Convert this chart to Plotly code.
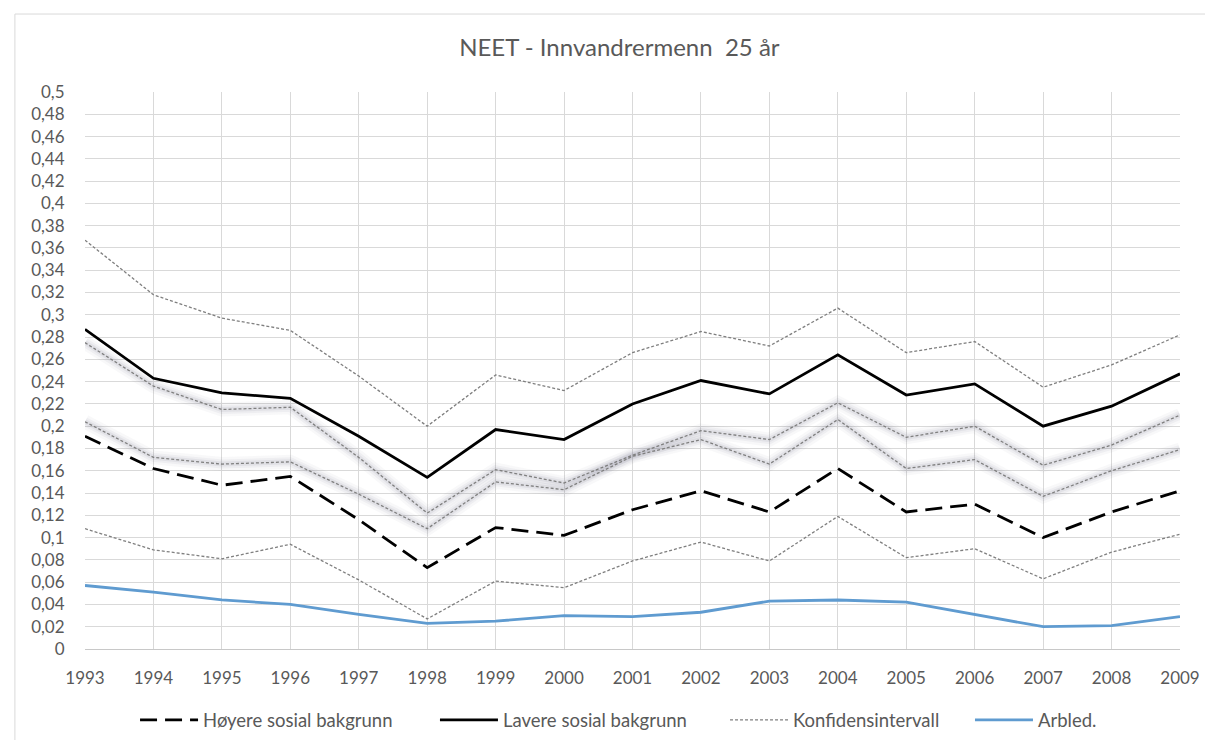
import plotly.graph_objects as go

years = list(range(1993, 2010))

hoyere = [0.191, 0.162, 0.147, 0.155, 0.116, 0.073, 0.109, 0.102, 0.125, 0.142,
          0.123, 0.162, 0.123, 0.130, 0.100, 0.123, 0.142]
lavere = [0.287, 0.243, 0.230, 0.225, 0.191, 0.154, 0.197, 0.188, 0.220, 0.241,
          0.229, 0.264, 0.228, 0.238, 0.200, 0.218, 0.247]
lavere_ci_upper = [0.367, 0.318, 0.297, 0.286, 0.245, 0.200, 0.246, 0.232, 0.266, 0.285,
                   0.272, 0.306, 0.266, 0.276, 0.235, 0.255, 0.282]
lavere_ci_lower = [0.275, 0.236, 0.215, 0.217, 0.172, 0.122, 0.161, 0.149, 0.174, 0.196,
                   0.188, 0.221, 0.190, 0.200, 0.165, 0.183, 0.210]
hoyere_ci_upper = [0.204, 0.172, 0.166, 0.168, 0.139, 0.108, 0.150, 0.143, 0.173, 0.188,
                   0.166, 0.206, 0.162, 0.170, 0.137, 0.160, 0.179]
hoyere_ci_lower = [0.108, 0.089, 0.081, 0.094, 0.062, 0.027, 0.061, 0.055, 0.079, 0.096,
                   0.079, 0.119, 0.082, 0.090, 0.063, 0.087, 0.103]
arbled = [0.057, 0.051, 0.044, 0.040, 0.031, 0.023, 0.025, 0.030, 0.029, 0.033,
          0.043, 0.044, 0.042, 0.031, 0.020, 0.021, 0.029]

y_tickvals = [0, 0.02, 0.04, 0.06, 0.08, 0.1, 0.12, 0.14, 0.16, 0.18, 0.2, 0.22, 0.24,
              0.26, 0.28, 0.3, 0.32, 0.34, 0.36, 0.38, 0.4, 0.42, 0.44, 0.46, 0.48, 0.5]
y_ticktext = ["0", "0,02", "0,04", "0,06", "0,08", "0,1", "0,12", "0,14", "0,16", "0,18",
              "0,2", "0,22", "0,24", "0,26", "0,28", "0,3", "0,32", "0,34", "0,36", "0,38",
              "0,4", "0,42", "0,44", "0,46", "0,48", "0,5"]

title_text = "NEET - Innvandrermenn  25 år"
font_family = "Lato, 'Open Sans', sans-serif"
text_color = "#595959"

fig = go.Figure()

# soft gray glow under the inner confidence lines
for series in (lavere_ci_lower, hoyere_ci_upper):
    for w, a in ((14, 0.05), (9, 0.07), (5, 0.10)):
        fig.add_trace(go.Scatter(x=years, y=series, mode="lines", showlegend=False,
                                 hoverinfo="skip",
                                 line=dict(color=f"rgba(120,120,135,{a})", width=w)))

ci_line = dict(color="#7f7f7f", width=1.3, dash="3px,2px")
fig.add_trace(go.Scatter(x=years, y=lavere_ci_upper, mode="lines", showlegend=False, line=ci_line))
fig.add_trace(go.Scatter(x=years, y=lavere_ci_lower, mode="lines", showlegend=False, line=ci_line))
fig.add_trace(go.Scatter(x=years, y=hoyere_ci_upper, mode="lines", showlegend=False, line=ci_line))

fig.add_trace(go.Scatter(x=years, y=hoyere, mode="lines", name="Høyere sosial bakgrunn",
                         legend="legend",
                         line=dict(color="black", width=2.8, dash="17px,8px")))
fig.add_trace(go.Scatter(x=years, y=lavere, mode="lines", name="Lavere sosial bakgrunn",
                         legend="legend2",
                         line=dict(color="black", width=2.8)))
fig.add_trace(go.Scatter(x=years, y=hoyere_ci_lower, mode="lines", name="Konfidensintervall",
                         legend="legend3", line=ci_line))
fig.add_trace(go.Scatter(x=years, y=arbled, mode="lines", name="Arbled.",
                         legend="legend4",
                         line=dict(color="#5f9bd0", width=2.8)))

legend_base = dict(orientation="h", xanchor="left", y=-0.128, yanchor="middle",
                   font=dict(size=18.5, color=text_color), itemwidth=58,
                   bgcolor="rgba(0,0,0,0)")

fig.update_layout(
    width=1213, height=740,
    paper_bgcolor="white", plot_bgcolor="white",
    margin=dict(l=77, r=41, t=84, b=99, autoexpand=False),
    title=dict(text=title_text, x=0.504, xanchor="center", y=0.946, yanchor="middle",
               font=dict(family=font_family, size=24, color=text_color)),
    font=dict(family=font_family, size=17, color=text_color),
    xaxis=dict(range=[1993, 2009], tickmode="array", tickvals=years,
               ticktext=[str(y) for y in years],
               showgrid=True, gridcolor="#d9d9d9", gridwidth=1,
               showline=True, linecolor="#c8c8c8", linewidth=1,
               zeroline=False, ticks="outside", ticklen=14, tickcolor="rgba(0,0,0,0)",
               tickfont=dict(size=17, color=text_color)),
    yaxis=dict(range=[0, 0.5], tickmode="array", tickvals=y_tickvals, ticktext=y_ticktext,
               showgrid=True, gridcolor="#d9d9d9", gridwidth=1,
               showline=False, zeroline=False,
               ticks="outside", ticklen=16, tickcolor="rgba(0,0,0,0)",
               tickfont=dict(size=17, color=text_color)),
    legend=dict(legend_base, x=0.0457),
    legend2=dict(legend_base, x=0.3196),
    legend3=dict(legend_base, x=0.5845),
    legend4=dict(legend_base, x=0.8082),
    shapes=[
        dict(type="line", xref="paper", yref="paper", x0=-0.064, x1=1.2, y0=1.14, y1=1.14,
             line=dict(color="#d9d9d9", width=1), layer="below"),
        dict(type="line", xref="paper", yref="paper", x0=-0.064, x1=-0.064, y0=-0.2, y1=1.14,
             line=dict(color="#d9d9d9", width=1), layer="below"),
    ],
)

fig.write_html("out.html")
